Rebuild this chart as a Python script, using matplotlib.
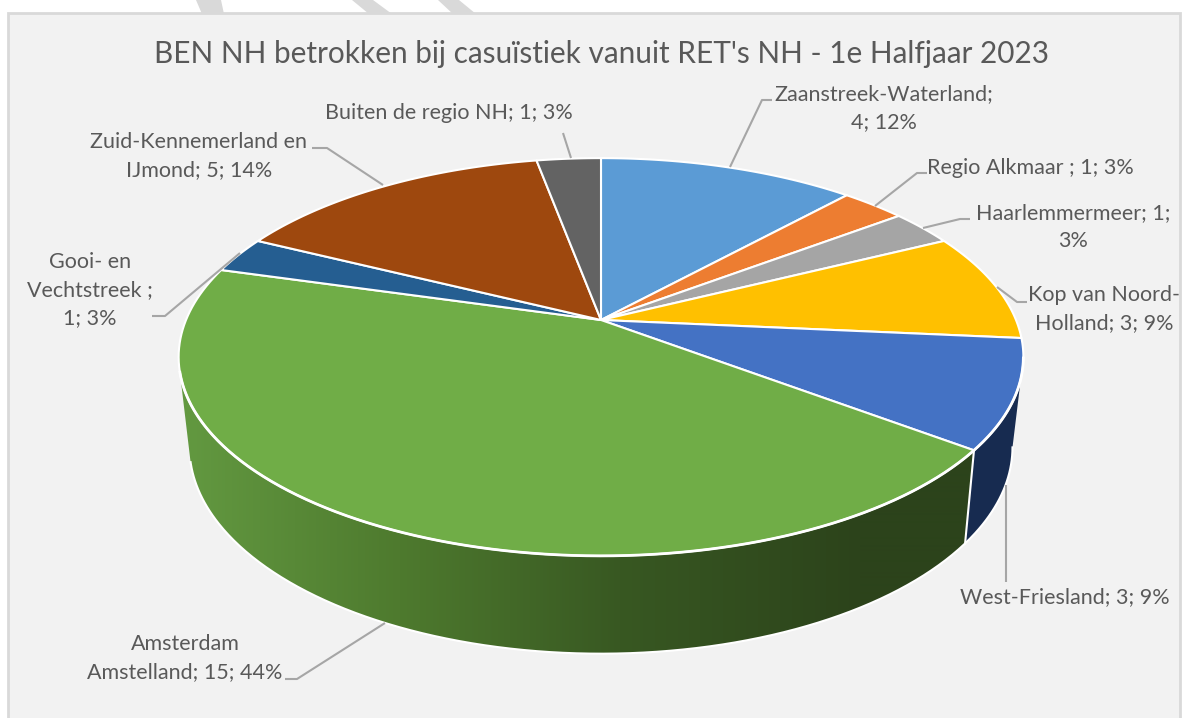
import numpy as np
import matplotlib
matplotlib.use('Agg')
import matplotlib.pyplot as plt
from matplotlib.patches import Polygon, Rectangle

plt.rcParams['font.family'] = ['Lato', 'DejaVu Sans']

# waarden, met de klok mee vanaf boven
regios = ['Zaanstreek-Waterland', 'Regio Alkmaar', 'Haarlemmermeer', 'Kop van Noord-Holland',
          'West-Friesland', 'Amsterdam Amstelland', 'Gooi- en Vechtstreek',
          'Zuid-Kennemerland en IJmond', 'Buiten de regio NH']
aantallen = [4, 1, 1, 3, 3, 15, 1, 5, 1]
kleuren = ['#5b9bd5', '#ed7d31', '#a5a5a5', '#ffc000', '#4472c4', '#70ad47', '#255e91', '#9e480e', '#636363']
labels = ['Zaanstreek-Waterland;\n4; 12%', 'Regio Alkmaar ; 1; 3%', 'Haarlemmermeer; 1;\n3%',
          'Kop van Noord-\nHolland; 3; 9%', 'West-Friesland; 3; 9%', 'Amsterdam\nAmstelland; 15; 44%',
          'Gooi- en\nVechtstreek ;\n1; 3%', 'Zuid-Kennemerland en\nIJmond; 5; 14%', 'Buiten de regio NH; 1; 3%']
label_pos = [(884, 108), (1030, 168), (1073, 227), (1104, 309), (1065, 597), (185, 658), (90, 290), (199, 156), (449, 113)]
lijntjes = [[(730, 167), (762, 100), (772, 100)], [(875, 206), (917, 173), (927, 173)],
            [(923, 228), (960, 219), (970, 219)], [(997, 287), (1017, 302), (1027, 302)],
            [(1006, 485), (1006, 582)], [(385, 623), (297, 679), (285, 679)],
            [(240, 253), (165, 316), (152, 316)], [(383, 185), (327, 148), (312, 148)],
            [(571, 158), (563, 133)]]
titel = "BEN NH betrokken bij casuïstiek vanuit RET's NH - 1e Halfjaar 2023"


def rand_boven(t):
    u, v = np.sin(t), np.cos(t)
    w = 1 + 0.186 * v
    return 601 + 415 * u / w, 320 - 192 * v / w


def rand_onder(t):
    u, v = np.sin(t), np.cos(t)
    w = 1 + 0.19 * v
    return 601 + 404 * u / w, 408 - 199 * v / w


def zijkant(t0, t1):
    a = np.linspace(t0, t1, 200)
    xb, yb = rand_boven(a)
    xo, yo = rand_onder(a)
    return list(zip(xb, yb)) + list(zip(xo[::-1], yo[::-1]))


fig = plt.figure(figsize=(11.88, 7.18), dpi=100, facecolor='white')
ax = fig.add_axes([0, 0, 1, 1])
ax.set_xlim(0, 1188)
ax.set_ylim(718, 0)
ax.axis('off')

# watermerk bovenaan en paneel
for x0, x1, x2, x3 in [(196, 221, 224, 202), (352, 373, 392, 369), (438, 459, 476, 453)]:
    ax.add_patch(Polygon([(x0, 0), (x1, 0), (x2, 14), (x3, 14)], fc='#d9d9d9', ec='none'))
ax.add_patch(Rectangle((7.5, 12.5), 1172, 720, fc='#f2f2f2', ec='#d9d9d9', lw=2))

grenzen = np.cumsum([0] + aantallen) / sum(aantallen) * 2 * np.pi
links = np.radians(255)
rechts = np.radians(101)

# zijkant West-Friesland
ax.add_patch(Polygon(zijkant(rechts, grenzen[5]), fc='#172b50', ec='none'))

# zijkant Amsterdam met verloop
xs = np.arange(170, 980)
stops = [190, 400, 620, 860]
verloop = np.stack([np.interp(xs, stops, [98, 78, 56, 44]),
                    np.interp(xs, stops, [152, 122, 88, 67]),
                    np.interp(xs, stops, [64, 46, 34, 27])], axis=1)[None, :, :] / 255
vlak = Polygon(zijkant(grenzen[5], links), fc='none', ec='none')
ax.add_patch(vlak)
beeld = ax.imshow(verloop, extent=(170, 980, 700, 200), aspect='auto', interpolation='bilinear', zorder=1.2)
beeld.set_clip_path(vlak)
ax.set_xlim(0, 1188)
ax.set_ylim(718, 0)

# witte randen van de zijkant
a = np.linspace(rechts, links, 400)
ax.plot(*rand_onder(a), color='white', lw=1.5, zorder=1.3)
ax.plot([rand_boven(grenzen[5])[0], rand_onder(grenzen[5])[0]],
        [rand_boven(grenzen[5])[1], rand_onder(grenzen[5])[1]], color='white', lw=1.5, zorder=1.3)

# bovenkant
for i in range(len(aantallen)):
    a = np.linspace(grenzen[i], grenzen[i + 1], 120)
    x, y = rand_boven(a)
    punten = [(601, 320)] + list(zip(x, y))
    ax.add_patch(Polygon(punten, fc=kleuren[i], ec='white', lw=1.5, joinstyle='round', zorder=1.5))

# voorkant van de rand iets dikker wit
a = np.linspace(rechts, links, 400)
ax.plot(*rand_boven(a), color='white', lw=2, zorder=1.6)

for punten in lijntjes:
    ax.plot([p[0] for p in punten], [p[1] for p in punten], color='#a6a6a6', lw=1.5, solid_capstyle='butt', zorder=1.7)

for tekst, (x, y) in zip(labels, label_pos):
    ax.text(x, y, tekst, ha='center', va='center', fontsize=15.5, color='#595959', linespacing=1.5)

ax.text(601, 54, titel, ha='center', va='center', fontsize=21.4, color='#595959')

fig.savefig('out.png', dpi=100)
